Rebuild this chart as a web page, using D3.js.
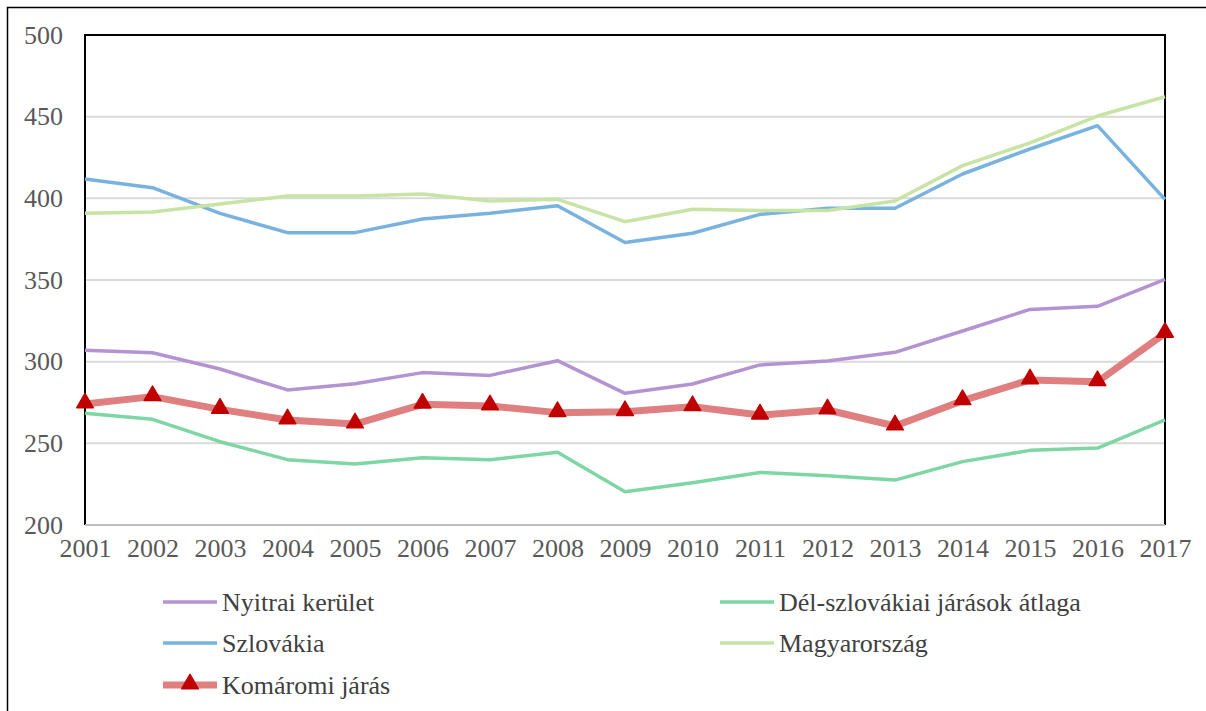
<!DOCTYPE html>
<html><head><meta charset="utf-8">
<script src="https://cdn.jsdelivr.net/npm/d3@7"></script>
<style>body{margin:0;background:#fff}svg{display:block}</style>
</head><body>
<svg id="chart" width="1206" height="711" style="font-family:'Liberation Serif',serif"></svg>
<script>
const years = ["2001","2002","2003","2004","2005","2006","2007","2008","2009","2010","2011","2012","2013","2014","2015","2016","2017"];
const yTicks = [200,250,300,350,400,450,500];
const nyitrai = [307,305.5,295.5,282.7,286.5,293.3,291.6,300.6,280.6,286.3,298,300.4,305.7,318.8,332,333.9,350.4];
const delszlovakiai = [268.4,264.7,251,240,237.3,241.2,240,244.5,220.4,225.9,232.2,230.2,227.5,238.8,245.7,247.1,264.3];
const szlovakia = [411.8,406.5,390.8,379,379,387.3,390.8,395.5,373,378.6,390.2,393.9,393.9,414.9,430.2,444.5,399.4];
const magyarorszag = [390.8,391.6,396.5,401.4,401.4,402.6,398.4,399.4,385.7,393.3,392.5,392.5,398.4,420,434,450.4,462.2];
const komaromi = [274.1,278.6,270.8,264.3,261.8,273.9,272.9,268.8,269.4,272.4,267.3,270.4,260.6,276.1,288.8,287.7,317.3];

const series = [
  {name:"Nyitrai kerület", values:nyitrai, color:"#B493D2", w:3.5},
  {name:"Dél-szlovákiai járások átlaga", values:delszlovakiai, color:"#7DD6A4", w:3.5},
  {name:"Szlovákia", values:szlovakia, color:"#78B2DF", w:3.5},
  {name:"Magyarország", values:magyarorszag, color:"#C7E4A4", w:3.5},
  {name:"Komáromi járás", values:komaromi, color:"#E07F7F", w:7, marker:true}
];

const svg = d3.select("#chart");
const L=85, R=1165, T=35, B=525;
const x = d3.scalePoint().domain(years).range([L,R]);
const y = d3.scaleLinear().domain([200,500]).range([B,T]);
const fontStyle = "font-family:'Liberation Serif',serif !important;font-size:26px";

// outer frame
svg.append("rect").attr("x",7.5).attr("y",7.5).attr("width",1220).attr("height",730)
  .attr("fill","none").attr("stroke","#000").attr("stroke-width",1.5);

// gridlines
svg.append("g").selectAll("line").data(yTicks.filter(d=>d>200 && d<500)).join("line")
  .attr("x1",L).attr("x2",R).attr("y1",d=>y(d)).attr("y2",d=>y(d))
  .attr("stroke","#d9d9d9").attr("stroke-width",2);

// plot border
svg.append("path").attr("d",`M${L},${B}V${T}H${R}V${B}`).attr("fill","none").attr("stroke","#000").attr("stroke-width",2);
svg.append("line").attr("x1",L).attr("x2",R).attr("y1",B).attr("y2",B).attr("stroke","#bfbfbf").attr("stroke-width",2);

// y axis
const ya = svg.append("g").attr("transform",`translate(${L},0)`)
  .call(d3.axisLeft(y).tickValues(yTicks).tickSize(0).tickPadding(22).tickFormat(d3.format("d")));
ya.attr("font-family",null).attr("font-size",null);
ya.select(".domain").remove();
ya.selectAll("text").attr("style",fontStyle).attr("fill","#595959");

// x axis
const xa = svg.append("g").attr("transform",`translate(0,${B})`)
  .call(d3.axisBottom(x).tickSize(0).tickPadding(14));
xa.attr("font-family",null).attr("font-size",null);
xa.select(".domain").remove();
xa.selectAll("text").attr("style",fontStyle).attr("fill","#595959");

// lines
const line = d3.line().x((d,i)=>x(years[i])).y(d=>y(d));
series.forEach(s=>{
  svg.append("path").datum(s.values).attr("d",line).attr("fill","none")
    .attr("stroke",s.color).attr("stroke-width",s.w).attr("stroke-linejoin","round");
});
const tri = d3.symbol().type(d3.symbolTriangle).size(120);
const kom = series[4];
svg.append("g").selectAll("path").data(kom.values).join("path")
  .attr("d",tri).attr("transform",(d,i)=>`translate(${x(years[i])},${y(d)-1})`)
  .attr("fill","#C00000").attr("stroke","#C00000").attr("stroke-width",1.5).attr("stroke-linejoin","round");

// legend
const legendPos = [[163,602],[720,602],[163,643],[720,643],[163,685]];
series.forEach((s,i)=>{
  const [lx,ly] = legendPos[i];
  const g = svg.append("g").attr("transform",`translate(${lx},${ly})`);
  g.append("line").attr("x1",0).attr("x2",54).attr("y1",0).attr("y2",0)
    .attr("stroke",s.color).attr("stroke-width",s.w);
  if(s.marker){
    g.append("path").attr("d",tri).attr("transform","translate(27,-1)")
      .attr("fill","#C00000").attr("stroke","#C00000").attr("stroke-width",1.5).attr("stroke-linejoin","round");
  }
  g.append("text").attr("x",59).attr("y",0).attr("dy","0.33em")
    .attr("style",fontStyle).attr("fill","#404040").text(s.name);
});
</script>
</body></html>
